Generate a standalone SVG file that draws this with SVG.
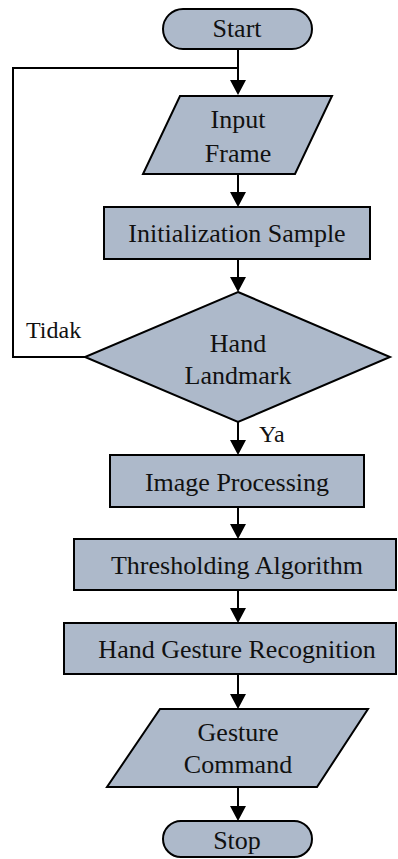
<svg xmlns="http://www.w3.org/2000/svg" width="398" height="859" viewBox="0 0 398 859">
<style>
.sh{fill:#adb9ca;stroke:#000;stroke-width:2}
.c{fill:none;stroke:#000;stroke-width:2}
.t{font-family:"Liberation Serif","Times New Roman",serif;font-size:26px;fill:#111;text-anchor:middle}
.l{font-family:"Liberation Serif","Times New Roman",serif;font-size:24px;fill:#111}
</style>
<defs>
<marker id="ah" markerUnits="userSpaceOnUse" markerWidth="16" markerHeight="16" viewBox="0 0 15 16" refX="11" refY="8" orient="auto">
<path d="M0,0 L15,8 L0,16 z" fill="#000"/>
</marker>
</defs>
<rect width="398" height="859" fill="#fff"/>
<g id="connectors">
<polyline class="c" points="85,357 13,357 13,68 238,68"/>
<line class="c" x1="238" y1="49" x2="238" y2="91" marker-end="url(#ah)"/>
<line class="c" x1="238" y1="174" x2="238" y2="203" marker-end="url(#ah)"/>
<line class="c" x1="238" y1="259" x2="238" y2="288" marker-end="url(#ah)"/>
<line class="c" x1="238" y1="422" x2="238" y2="451" marker-end="url(#ah)"/>
<line class="c" x1="238" y1="507" x2="238" y2="535" marker-end="url(#ah)"/>
<line class="c" x1="238" y1="590" x2="238" y2="619" marker-end="url(#ah)"/>
<line class="c" x1="238" y1="674" x2="238" y2="705" marker-end="url(#ah)"/>
<line class="c" x1="238" y1="787" x2="238" y2="817" marker-end="url(#ah)"/>
<text class="l" x="26" y="338">Tidak</text>
<text class="l" x="259" y="442">Ya</text>
</g>
<g id="start">
<rect class="sh" x="163" y="9" width="149" height="40" rx="20"/>
<text class="t" x="237" y="37">Start</text>
</g>
<g id="input-frame">
<polygon class="sh" points="180,96 332,96 295,174 143,174"/>
<text class="t" x="238" y="128">Input</text>
<text class="t" x="238" y="162">Frame</text>
</g>
<g id="init-sample">
<rect class="sh" x="104" y="207" width="266" height="52"/>
<text class="t" x="237" y="242">Initialization Sample</text>
</g>
<g id="hand-landmark">
<polygon class="sh" points="238,292 390,357 238,422 85,357"/>
<text class="t" x="238" y="352">Hand</text>
<text class="t" x="238" y="384">Landmark</text>
</g>
<g id="image-processing">
<rect class="sh" x="110" y="455" width="254" height="52"/>
<text class="t" x="237" y="491">Image Processing</text>
</g>
<g id="thresholding">
<rect class="sh" x="74" y="539" width="322" height="51"/>
<text class="t" x="237" y="574">Thresholding Algorithm</text>
</g>
<g id="gesture-recognition">
<rect class="sh" x="64" y="623" width="332" height="51"/>
<text class="t" x="237" y="658">Hand Gesture Recognition</text>
</g>
<g id="gesture-command">
<polygon class="sh" points="160,709 368,709 317,787 107,787"/>
<text class="t" x="238" y="741">Gesture</text>
<text class="t" x="238" y="773">Command</text>
</g>
<g id="stop">
<rect class="sh" x="163" y="821" width="149" height="36" rx="18"/>
<text class="t" x="237" y="849">Stop</text>
</g>
</svg>
